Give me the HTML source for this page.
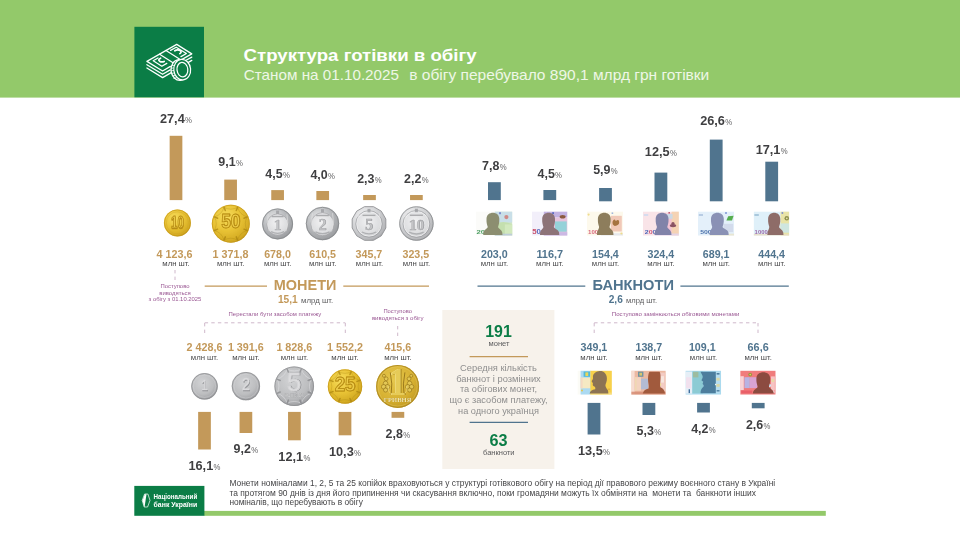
<!DOCTYPE html>
<html lang="uk">
<head>
<meta charset="utf-8">
<title>Структура готівки в обігу</title>
<style>
html,body{margin:0;padding:0;background:#ffffff;}
body{width:960px;height:540px;overflow:hidden;font-family:"Liberation Sans", sans-serif;}
svg{display:block;font-family:"Liberation Sans", sans-serif;filter:blur(0.35px);}
</style>
</head>
<body>
<svg width="960" height="540" viewBox="0 0 960 540">
<defs>

<radialGradient id="gG" cx="0.38" cy="0.32" r="0.75">
  <stop offset="0" stop-color="#f6dc5c"/><stop offset="0.5" stop-color="#e8c234"/><stop offset="0.88" stop-color="#d2a922"/><stop offset="1" stop-color="#b88e16"/>
</radialGradient>
<radialGradient id="gH" cx="0.4" cy="0.35" r="0.75">
  <stop offset="0" stop-color="#e6c84e"/><stop offset="0.6" stop-color="#d7b132"/><stop offset="0.9" stop-color="#c29a22"/><stop offset="1" stop-color="#a58018"/>
</radialGradient>
<radialGradient id="gS" cx="0.42" cy="0.36" r="0.72">
  <stop offset="0" stop-color="#d2d3d5"/><stop offset="0.6" stop-color="#bdbec0"/><stop offset="0.88" stop-color="#a2a3a6"/><stop offset="1" stop-color="#828386"/>
</radialGradient>
<radialGradient id="gS2" cx="0.38" cy="0.32" r="0.8">
  <stop offset="0" stop-color="#e6e7e8"/><stop offset="0.45" stop-color="#bbbdc0"/><stop offset="0.85" stop-color="#9c9ea1"/><stop offset="1" stop-color="#7e8083"/>
</radialGradient>
<radialGradient id="gS3" cx="0.36" cy="0.30" r="0.82">
  <stop offset="0" stop-color="#f4f4f5"/><stop offset="0.45" stop-color="#d6d7d9"/><stop offset="0.85" stop-color="#b4b5b8"/><stop offset="1" stop-color="#87888b"/>
</radialGradient>
<radialGradient id="gSi" cx="0.45" cy="0.4" r="0.7">
  <stop offset="0" stop-color="#f1f1f2"/><stop offset="0.7" stop-color="#dcdddf"/><stop offset="1" stop-color="#c6c7c9"/>
</radialGradient>
<linearGradient id="fadeL" x1="0" x2="1" y1="0" y2="0">
  <stop offset="0" stop-color="#ffffff" stop-opacity="0.9"/><stop offset="1" stop-color="#ffffff" stop-opacity="0"/>
</linearGradient>
<filter id="soft" x="-10%" y="-10%" width="120%" height="120%"><feGaussianBlur stdDeviation="0.45"/></filter>
<filter id="soft2" x="-10%" y="-10%" width="120%" height="120%"><feGaussianBlur stdDeviation="0.3"/></filter>

</defs>
<rect x="0.00" y="0.00" width="960.00" height="97.60" fill="#93c96a" />
<rect x="134.40" y="26.80" width="69.60" height="70.50" fill="#0b7d46" />
<text x="243.60" y="61.10" font-size="17.4" fill="#ffffff" font-weight="bold" textLength="233.00" lengthAdjust="spacingAndGlyphs">Структура готівки в обігу</text>
<text x="243.80" y="80.30" font-size="14.4" fill="#eef7e6" textLength="155.20" lengthAdjust="spacingAndGlyphs">Станом на 01.10.2025</text>
<text x="409.30" y="80.30" font-size="14.4" fill="#eef7e6" textLength="300.00" lengthAdjust="spacingAndGlyphs">в обігу перебувало 890,1 млрд грн готівки</text>
<g stroke="#ffffff" fill="none" stroke-width="1.25" stroke-linejoin="round" stroke-linecap="round"><path d="M179.4 60.9 L191.8 53.9 L176.7 44.4 L146.9 61.4 L162.6 71 L170.4 66.4"/><path d="M159.6 54.2 L173.8 63.2 M166.0 50.5 L180.6 59.8"/><path d="M158.0 58.0 L153.2 60.8 L161.8 66.2 L166.8 63.4"/><path d="M170.6 50.4 L176.2 47.2 L186.4 53.5 L181.0 56.6"/><path d="M174.8 50.8 q2.8 -1.8 5.4 -0.2 q2.0 1.5 -0.4 3.0" stroke-width="1.7"/><path d="M160.6 58.2 q-3.0 1.4 -1.0 3.0 q2.2 1.4 4.6 0.2" stroke-width="1.7"/><path d="M146.9 64.7 L162.6 74.3 L170.2 69.9 M146.9 68.0 L162.6 77.6 L171.2 72.6"/><path d="M185.2 60.8 L191.8 57.1 M188.0 62.6 L191.8 60.4"/></g><g stroke="#ffffff" stroke-width="1.25" stroke-linejoin="round"><ellipse cx="179.6" cy="70.0" rx="8.6" ry="10.4" fill="#0b7d46" transform="rotate(-6 179.6 70.0)"/><ellipse cx="182.2" cy="69.6" rx="8.4" ry="10.3" fill="#0b7d46" transform="rotate(-6 182.2 69.6)"/><ellipse cx="182.4" cy="69.6" rx="5.4" ry="7.3" fill="none" transform="rotate(-6 182.4 69.6)"/></g><g stroke="#ffffff" stroke-width="0.8" stroke-linecap="round"><line x1="172.2" y1="65.6" x2="174.29999999999998" y2="65.3"/><line x1="171.6" y1="68.2" x2="173.7" y2="67.9"/><line x1="171.4" y1="70.8" x2="173.5" y2="70.5"/><line x1="171.7" y1="73.4" x2="173.79999999999998" y2="73.10000000000001"/><line x1="172.5" y1="75.9" x2="174.6" y2="75.60000000000001"/><line x1="173.8" y1="78.2" x2="175.9" y2="77.9"/></g>
<rect x="169.65" y="135.80" width="12.70" height="64.30" fill="#c3995a" />
<text x="159.95" y="123.30" font-size="13" fill="#3f3f41" font-weight="bold" textLength="24.80" lengthAdjust="spacingAndGlyphs">27,4</text>
<text x="185.05" y="123.30" font-size="9.6" fill="#626264" textLength="6.90" lengthAdjust="spacingAndGlyphs">%</text>
<text x="156.60" y="257.50" font-size="11" fill="#c3995a" font-weight="bold" textLength="35.90" lengthAdjust="spacingAndGlyphs">4 123,6</text>
<text x="162.30" y="265.90" font-size="7.6" fill="#48484a" textLength="27.40" lengthAdjust="spacingAndGlyphs">млн шт.</text>
<rect x="224.25" y="179.60" width="12.70" height="20.50" fill="#c3995a" />
<text x="218.30" y="166.40" font-size="13" fill="#3f3f41" font-weight="bold" textLength="17.30" lengthAdjust="spacingAndGlyphs">9,1</text>
<text x="235.90" y="166.40" font-size="9.6" fill="#626264" textLength="6.90" lengthAdjust="spacingAndGlyphs">%</text>
<text x="212.60" y="257.50" font-size="11" fill="#c3995a" font-weight="bold" textLength="35.90" lengthAdjust="spacingAndGlyphs">1 371,8</text>
<text x="216.90" y="265.90" font-size="7.6" fill="#48484a" textLength="27.40" lengthAdjust="spacingAndGlyphs">млн шт.</text>
<rect x="271.25" y="190.10" width="12.70" height="10.00" fill="#c3995a" />
<text x="265.30" y="177.60" font-size="13" fill="#3f3f41" font-weight="bold" textLength="17.30" lengthAdjust="spacingAndGlyphs">4,5</text>
<text x="282.90" y="177.60" font-size="9.6" fill="#626264" textLength="6.90" lengthAdjust="spacingAndGlyphs">%</text>
<text x="264.20" y="257.50" font-size="11" fill="#c3995a" font-weight="bold" textLength="26.70" lengthAdjust="spacingAndGlyphs">678,0</text>
<text x="263.90" y="265.90" font-size="7.6" fill="#48484a" textLength="27.40" lengthAdjust="spacingAndGlyphs">млн шт.</text>
<rect x="316.35" y="191.00" width="12.70" height="9.10" fill="#c3995a" />
<text x="310.40" y="178.70" font-size="13" fill="#3f3f41" font-weight="bold" textLength="17.30" lengthAdjust="spacingAndGlyphs">4,0</text>
<text x="328.00" y="178.70" font-size="9.6" fill="#626264" textLength="6.90" lengthAdjust="spacingAndGlyphs">%</text>
<text x="309.30" y="257.50" font-size="11" fill="#c3995a" font-weight="bold" textLength="26.70" lengthAdjust="spacingAndGlyphs">610,5</text>
<text x="309.00" y="265.90" font-size="7.6" fill="#48484a" textLength="27.40" lengthAdjust="spacingAndGlyphs">млн шт.</text>
<rect x="363.15" y="195.00" width="12.70" height="5.10" fill="#c3995a" />
<text x="357.20" y="182.70" font-size="13" fill="#3f3f41" font-weight="bold" textLength="17.30" lengthAdjust="spacingAndGlyphs">2,3</text>
<text x="374.80" y="182.70" font-size="9.6" fill="#626264" textLength="6.90" lengthAdjust="spacingAndGlyphs">%</text>
<text x="355.60" y="257.50" font-size="11" fill="#c3995a" font-weight="bold" textLength="26.70" lengthAdjust="spacingAndGlyphs">345,7</text>
<text x="355.80" y="265.90" font-size="7.6" fill="#48484a" textLength="27.40" lengthAdjust="spacingAndGlyphs">млн шт.</text>
<rect x="410.05" y="195.00" width="12.70" height="5.10" fill="#c3995a" />
<text x="404.10" y="182.70" font-size="13" fill="#3f3f41" font-weight="bold" textLength="17.30" lengthAdjust="spacingAndGlyphs">2,2</text>
<text x="421.70" y="182.70" font-size="9.6" fill="#626264" textLength="6.90" lengthAdjust="spacingAndGlyphs">%</text>
<text x="402.50" y="257.50" font-size="11" fill="#c3995a" font-weight="bold" textLength="26.70" lengthAdjust="spacingAndGlyphs">323,5</text>
<text x="402.70" y="265.90" font-size="7.6" fill="#48484a" textLength="27.40" lengthAdjust="spacingAndGlyphs">млн шт.</text>
<rect x="488.00" y="182.20" width="12.80" height="17.90" fill="#50748e" />
<text x="482.10" y="169.70" font-size="13" fill="#3f3f41" font-weight="bold" textLength="17.30" lengthAdjust="spacingAndGlyphs">7,8</text>
<text x="499.70" y="169.70" font-size="9.6" fill="#626264" textLength="6.90" lengthAdjust="spacingAndGlyphs">%</text>
<text x="481.00" y="257.50" font-size="11" fill="#50748e" font-weight="bold" textLength="26.70" lengthAdjust="spacingAndGlyphs">203,0</text>
<text x="480.70" y="265.90" font-size="7.6" fill="#48484a" textLength="27.40" lengthAdjust="spacingAndGlyphs">млн шт.</text>
<rect x="543.40" y="190.00" width="12.80" height="10.10" fill="#50748e" />
<text x="537.50" y="177.80" font-size="13" fill="#3f3f41" font-weight="bold" textLength="17.30" lengthAdjust="spacingAndGlyphs">4,5</text>
<text x="555.10" y="177.80" font-size="9.6" fill="#626264" textLength="6.90" lengthAdjust="spacingAndGlyphs">%</text>
<text x="536.40" y="257.50" font-size="11" fill="#50748e" font-weight="bold" textLength="26.70" lengthAdjust="spacingAndGlyphs">116,7</text>
<text x="536.10" y="265.90" font-size="7.6" fill="#48484a" textLength="27.40" lengthAdjust="spacingAndGlyphs">млн шт.</text>
<rect x="599.10" y="188.00" width="12.80" height="13.30" fill="#50748e" />
<text x="593.20" y="173.70" font-size="13" fill="#3f3f41" font-weight="bold" textLength="17.30" lengthAdjust="spacingAndGlyphs">5,9</text>
<text x="610.80" y="173.70" font-size="9.6" fill="#626264" textLength="6.90" lengthAdjust="spacingAndGlyphs">%</text>
<text x="592.10" y="257.50" font-size="11" fill="#50748e" font-weight="bold" textLength="26.70" lengthAdjust="spacingAndGlyphs">154,4</text>
<text x="591.80" y="265.90" font-size="7.6" fill="#48484a" textLength="27.40" lengthAdjust="spacingAndGlyphs">млн шт.</text>
<rect x="654.50" y="172.60" width="12.80" height="28.70" fill="#50748e" />
<text x="644.85" y="156.20" font-size="13" fill="#3f3f41" font-weight="bold" textLength="24.80" lengthAdjust="spacingAndGlyphs">12,5</text>
<text x="669.95" y="156.20" font-size="9.6" fill="#626264" textLength="6.90" lengthAdjust="spacingAndGlyphs">%</text>
<text x="647.50" y="257.50" font-size="11" fill="#50748e" font-weight="bold" textLength="26.70" lengthAdjust="spacingAndGlyphs">324,4</text>
<text x="647.20" y="265.90" font-size="7.6" fill="#48484a" textLength="27.40" lengthAdjust="spacingAndGlyphs">млн шт.</text>
<rect x="709.80" y="139.60" width="12.80" height="61.70" fill="#50748e" />
<text x="700.15" y="125.40" font-size="13" fill="#3f3f41" font-weight="bold" textLength="24.80" lengthAdjust="spacingAndGlyphs">26,6</text>
<text x="725.25" y="125.40" font-size="9.6" fill="#626264" textLength="6.90" lengthAdjust="spacingAndGlyphs">%</text>
<text x="702.80" y="257.50" font-size="11" fill="#50748e" font-weight="bold" textLength="26.70" lengthAdjust="spacingAndGlyphs">689,1</text>
<text x="702.50" y="265.90" font-size="7.6" fill="#48484a" textLength="27.40" lengthAdjust="spacingAndGlyphs">млн шт.</text>
<rect x="765.30" y="161.70" width="12.80" height="39.60" fill="#50748e" />
<text x="755.65" y="153.80" font-size="13" fill="#3f3f41" font-weight="bold" textLength="24.80" lengthAdjust="spacingAndGlyphs">17,1</text>
<text x="780.75" y="153.80" font-size="9.6" fill="#626264" textLength="6.90" lengthAdjust="spacingAndGlyphs">%</text>
<text x="758.30" y="257.50" font-size="11" fill="#50748e" font-weight="bold" textLength="26.70" lengthAdjust="spacingAndGlyphs">444,4</text>
<text x="758.00" y="265.90" font-size="7.6" fill="#48484a" textLength="27.40" lengthAdjust="spacingAndGlyphs">млн шт.</text>
<line x1="204.7" y1="286" x2="267" y2="286" stroke="#c3995a" stroke-width="1.25"/>
<line x1="343.3" y1="286" x2="429" y2="286" stroke="#c3995a" stroke-width="1.25"/>
<text x="273.80" y="290.20" font-size="14.2" fill="#c3995a" font-weight="bold" textLength="62.60" lengthAdjust="spacingAndGlyphs">МОНЕТИ</text>
<text x="277.90" y="302.70" font-size="10.5" fill="#c3995a" font-weight="bold" textLength="19.80" lengthAdjust="spacingAndGlyphs">15,1</text>
<text x="301.10" y="302.70" font-size="7.6" fill="#5a5a5c" textLength="32.00" lengthAdjust="spacingAndGlyphs">млрд шт.</text>
<line x1="477.5" y1="286" x2="585.3" y2="286" stroke="#50748e" stroke-width="1.25"/>
<line x1="680.4" y1="286" x2="788.8" y2="286" stroke="#50748e" stroke-width="1.25"/>
<text x="592.50" y="290.10" font-size="14.2" fill="#50748e" font-weight="bold" textLength="81.40" lengthAdjust="spacingAndGlyphs">БАНКНОТИ</text>
<text x="608.70" y="302.60" font-size="10.5" fill="#50748e" font-weight="bold" textLength="14.10" lengthAdjust="spacingAndGlyphs">2,6</text>
<text x="626.10" y="302.60" font-size="7.6" fill="#5a5a5c" textLength="31.00" lengthAdjust="spacingAndGlyphs">млрд шт.</text>
<line x1="175" y1="270" x2="175" y2="280" stroke="#cfb8cb" stroke-width="1" stroke-dasharray="3.4 3.2"/>
<text x="175.00" y="287.50" font-size="5.6" fill="#995692" text-anchor="middle" textLength="29.00" lengthAdjust="spacingAndGlyphs">Поступово</text>
<text x="175.00" y="294.60" font-size="5.6" fill="#995692" text-anchor="middle" textLength="31.50" lengthAdjust="spacingAndGlyphs">виводяться</text>
<text x="175.00" y="301.30" font-size="5.6" fill="#995692" text-anchor="middle" textLength="52.80" lengthAdjust="spacingAndGlyphs">з обігу з 01.10.2025</text>
<text x="228.60" y="316.00" font-size="5.6" fill="#995692" textLength="92.60" lengthAdjust="spacingAndGlyphs">Перестали бути засобом платежу</text>
<line x1="204.7" y1="322.8" x2="345.3" y2="322.8" stroke="#cfb8cb" stroke-width="1" stroke-dasharray="3.4 3.2"/>
<line x1="204.7" y1="323" x2="204.7" y2="336" stroke="#cfb8cb" stroke-width="1" stroke-dasharray="3.4 3.2"/>
<line x1="345.3" y1="323" x2="345.3" y2="336" stroke="#cfb8cb" stroke-width="1" stroke-dasharray="3.4 3.2"/>
<text x="397.70" y="313.00" font-size="5.6" fill="#995692" text-anchor="middle" textLength="28.50" lengthAdjust="spacingAndGlyphs">Поступово</text>
<text x="397.70" y="320.40" font-size="5.6" fill="#995692" text-anchor="middle" textLength="51.60" lengthAdjust="spacingAndGlyphs">виводяться з обігу</text>
<line x1="397.7" y1="326" x2="397.7" y2="336" stroke="#cfb8cb" stroke-width="1" stroke-dasharray="3.4 3.2"/>
<text x="611.80" y="315.80" font-size="5.3" fill="#995692" textLength="127.60" lengthAdjust="spacingAndGlyphs">Поступово замінюються обіговими монетами</text>
<line x1="594.2" y1="322.8" x2="758" y2="322.8" stroke="#cfb8cb" stroke-width="1" stroke-dasharray="3.4 3.2"/>
<line x1="594.2" y1="323" x2="594.2" y2="336" stroke="#cfb8cb" stroke-width="1" stroke-dasharray="3.4 3.2"/>
<line x1="758" y1="323" x2="758" y2="333" stroke="#cfb8cb" stroke-width="1" stroke-dasharray="3.4 3.2"/>
<rect x="198.15" y="411.90" width="12.70" height="37.60" fill="#c3995a" />
<text x="188.45" y="469.70" font-size="13" fill="#3f3f41" font-weight="bold" textLength="24.80" lengthAdjust="spacingAndGlyphs">16,1</text>
<text x="213.55" y="469.70" font-size="9.6" fill="#626264" textLength="6.90" lengthAdjust="spacingAndGlyphs">%</text>
<text x="186.50" y="351.20" font-size="11" fill="#c3995a" font-weight="bold" textLength="35.90" lengthAdjust="spacingAndGlyphs">2 428,6</text>
<text x="190.80" y="360.00" font-size="7.6" fill="#48484a" textLength="27.40" lengthAdjust="spacingAndGlyphs">млн шт.</text>
<rect x="239.55" y="411.90" width="12.70" height="21.10" fill="#c3995a" />
<text x="233.60" y="453.20" font-size="13" fill="#3f3f41" font-weight="bold" textLength="17.30" lengthAdjust="spacingAndGlyphs">9,2</text>
<text x="251.20" y="453.20" font-size="9.6" fill="#626264" textLength="6.90" lengthAdjust="spacingAndGlyphs">%</text>
<text x="227.90" y="351.20" font-size="11" fill="#c3995a" font-weight="bold" textLength="35.90" lengthAdjust="spacingAndGlyphs">1 391,6</text>
<text x="232.20" y="360.00" font-size="7.6" fill="#48484a" textLength="27.40" lengthAdjust="spacingAndGlyphs">млн шт.</text>
<rect x="288.05" y="411.90" width="12.70" height="28.40" fill="#c3995a" />
<text x="278.35" y="460.50" font-size="13" fill="#3f3f41" font-weight="bold" textLength="24.80" lengthAdjust="spacingAndGlyphs">12,1</text>
<text x="303.45" y="460.50" font-size="9.6" fill="#626264" textLength="6.90" lengthAdjust="spacingAndGlyphs">%</text>
<text x="276.40" y="351.20" font-size="11" fill="#c3995a" font-weight="bold" textLength="35.90" lengthAdjust="spacingAndGlyphs">1 828,6</text>
<text x="280.70" y="360.00" font-size="7.6" fill="#48484a" textLength="27.40" lengthAdjust="spacingAndGlyphs">млн шт.</text>
<rect x="338.65" y="411.90" width="12.70" height="23.40" fill="#c3995a" />
<text x="328.95" y="455.50" font-size="13" fill="#3f3f41" font-weight="bold" textLength="24.80" lengthAdjust="spacingAndGlyphs">10,3</text>
<text x="354.05" y="455.50" font-size="9.6" fill="#626264" textLength="6.90" lengthAdjust="spacingAndGlyphs">%</text>
<text x="327.00" y="351.20" font-size="11" fill="#c3995a" font-weight="bold" textLength="35.90" lengthAdjust="spacingAndGlyphs">1 552,2</text>
<text x="331.30" y="360.00" font-size="7.6" fill="#48484a" textLength="27.40" lengthAdjust="spacingAndGlyphs">млн шт.</text>
<rect x="391.55" y="411.90" width="12.70" height="5.90" fill="#c3995a" />
<text x="385.60" y="438.00" font-size="13" fill="#3f3f41" font-weight="bold" textLength="17.30" lengthAdjust="spacingAndGlyphs">2,8</text>
<text x="403.20" y="438.00" font-size="9.6" fill="#626264" textLength="6.90" lengthAdjust="spacingAndGlyphs">%</text>
<text x="384.50" y="351.20" font-size="11" fill="#c3995a" font-weight="bold" textLength="26.70" lengthAdjust="spacingAndGlyphs">415,6</text>
<text x="384.20" y="360.00" font-size="7.6" fill="#48484a" textLength="27.40" lengthAdjust="spacingAndGlyphs">млн шт.</text>
<rect x="587.60" y="402.90" width="12.80" height="31.60" fill="#50748e" />
<text x="577.95" y="454.80" font-size="13" fill="#3f3f41" font-weight="bold" textLength="24.80" lengthAdjust="spacingAndGlyphs">13,5</text>
<text x="603.05" y="454.80" font-size="9.6" fill="#626264" textLength="6.90" lengthAdjust="spacingAndGlyphs">%</text>
<text x="580.60" y="351.20" font-size="11" fill="#50748e" font-weight="bold" textLength="26.70" lengthAdjust="spacingAndGlyphs">349,1</text>
<text x="580.30" y="360.00" font-size="7.6" fill="#48484a" textLength="27.40" lengthAdjust="spacingAndGlyphs">млн шт.</text>
<rect x="642.50" y="402.90" width="12.80" height="12.10" fill="#50748e" />
<text x="636.60" y="435.30" font-size="13" fill="#3f3f41" font-weight="bold" textLength="17.30" lengthAdjust="spacingAndGlyphs">5,3</text>
<text x="654.20" y="435.30" font-size="9.6" fill="#626264" textLength="6.90" lengthAdjust="spacingAndGlyphs">%</text>
<text x="635.50" y="351.20" font-size="11" fill="#50748e" font-weight="bold" textLength="26.70" lengthAdjust="spacingAndGlyphs">138,7</text>
<text x="635.20" y="360.00" font-size="7.6" fill="#48484a" textLength="27.40" lengthAdjust="spacingAndGlyphs">млн шт.</text>
<rect x="697.10" y="402.90" width="12.80" height="9.60" fill="#50748e" />
<text x="691.20" y="432.80" font-size="13" fill="#3f3f41" font-weight="bold" textLength="17.30" lengthAdjust="spacingAndGlyphs">4,2</text>
<text x="708.80" y="432.80" font-size="9.6" fill="#626264" textLength="6.90" lengthAdjust="spacingAndGlyphs">%</text>
<text x="688.90" y="351.20" font-size="11" fill="#50748e" font-weight="bold" textLength="26.70" lengthAdjust="spacingAndGlyphs">109,1</text>
<text x="689.80" y="360.00" font-size="7.6" fill="#48484a" textLength="27.40" lengthAdjust="spacingAndGlyphs">млн шт.</text>
<rect x="751.80" y="402.90" width="12.80" height="5.40" fill="#50748e" />
<text x="745.90" y="428.60" font-size="13" fill="#3f3f41" font-weight="bold" textLength="17.30" lengthAdjust="spacingAndGlyphs">2,6</text>
<text x="763.50" y="428.60" font-size="9.6" fill="#626264" textLength="6.90" lengthAdjust="spacingAndGlyphs">%</text>
<text x="747.60" y="351.20" font-size="11" fill="#50748e" font-weight="bold" textLength="21.10" lengthAdjust="spacingAndGlyphs">66,6</text>
<text x="744.50" y="360.00" font-size="7.6" fill="#48484a" textLength="27.40" lengthAdjust="spacingAndGlyphs">млн шт.</text>
<rect x="442.30" y="310.00" width="112.10" height="159.00" fill="#f7f2eb" />
<text x="498.50" y="337.20" font-size="15.8" fill="#0b7d46" font-weight="bold" text-anchor="middle" textLength="26.60" lengthAdjust="spacingAndGlyphs">191</text>
<text x="499.00" y="346.00" font-size="7.2" fill="#5a5a5c" text-anchor="middle" textLength="21.00" lengthAdjust="spacingAndGlyphs">монет</text>
<line x1="469.6" y1="356.7" x2="528" y2="356.7" stroke="#c3995a" stroke-width="1.2"/>
<text x="498.50" y="371.00" font-size="8.5" fill="#8e8e8e" text-anchor="middle" textLength="76.80" lengthAdjust="spacingAndGlyphs">Середня кількість</text>
<text x="498.50" y="381.72" font-size="8.5" fill="#8e8e8e" text-anchor="middle" textLength="84.60" lengthAdjust="spacingAndGlyphs">банкнот і розмінних</text>
<text x="498.50" y="392.44" font-size="8.5" fill="#8e8e8e" text-anchor="middle" textLength="77.00" lengthAdjust="spacingAndGlyphs">та обігових монет,</text>
<text x="498.50" y="403.16" font-size="8.5" fill="#8e8e8e" text-anchor="middle" textLength="98.00" lengthAdjust="spacingAndGlyphs">що є засобом платежу,</text>
<text x="498.50" y="413.88" font-size="8.5" fill="#8e8e8e" text-anchor="middle" textLength="80.80" lengthAdjust="spacingAndGlyphs">на одного українця</text>
<line x1="469.6" y1="422.3" x2="528" y2="422.3" stroke="#50748e" stroke-width="1.2"/>
<text x="498.60" y="445.70" font-size="15.8" fill="#0b7d46" font-weight="bold" text-anchor="middle" textLength="18.00" lengthAdjust="spacingAndGlyphs">63</text>
<text x="498.80" y="454.50" font-size="7.2" fill="#5a5a5c" text-anchor="middle" textLength="31.50" lengthAdjust="spacingAndGlyphs">банкноти</text>
<rect x="204.00" y="510.90" width="621.80" height="4.90" fill="#93c96a" />
<rect x="134.30" y="485.90" width="70.10" height="29.90" fill="#0b7d46" />
<text x="153.60" y="498.70" font-size="6.6" fill="#ffffff" font-weight="bold" textLength="43.60" lengthAdjust="spacingAndGlyphs">Національний</text>
<text x="153.60" y="506.70" font-size="6.6" fill="#ffffff" font-weight="bold" textLength="43.60" lengthAdjust="spacingAndGlyphs">банк України</text>
<g><path d="M144.6 494 L147.9 494 L150 500.4 L147.6 507 L144.2 507 L142.2 500.4 Z" fill="none" stroke="#ffffff" stroke-width="0.7" stroke-linejoin="round"/><path d="M144.8 494.2 L146.5 494.2 L144.6 506.8 L144.2 506.8 L142.5 500.4 Z" fill="#ffffff"/></g>
<text x="229.40" y="486.20" font-size="8.2" fill="#454547" textLength="545.80" lengthAdjust="spacingAndGlyphs">Монети номіналами 1, 2, 5 та 25 копійок враховуються у структурі готівкового обігу на період дії правового режиму воєнного стану в Україні</text>
<text x="229.40" y="495.60" font-size="8.2" fill="#454547" textLength="526.60" lengthAdjust="spacingAndGlyphs" xml:space="preserve">та протягом 90 днів із дня його припинення чи скасування включно, поки громадяни можуть їх обміняти на  монети та  банкноти інших</text>
<text x="229.40" y="504.80" font-size="8.2" fill="#454547" textLength="133.50" lengthAdjust="spacingAndGlyphs">номіналів, що перебувають в обігу</text>
<g filter="url(#soft2)"><circle cx="177.4" cy="222.9" r="13.5" fill="url(#gG)"/><circle cx="177.4" cy="222.9" r="13.00" fill="none" stroke="#c3951a" stroke-width="0.9" opacity="0.75"/><circle cx="177.4" cy="222.9" r="11.07" fill="none" stroke="#cfa325" stroke-width="0.6" opacity="0.6"/><text x="177.90" y="228.71" font-size="16.5" font-weight="bold" text-anchor="middle" fill="#b0820e" stroke="#b0820e" stroke-width="0.5" opacity="0.8" transform="translate(177.40 0) scale(0.7 1) translate(-177.40 0)">10</text><text x="177.40" y="228.21" font-size="16.5" font-weight="bold" text-anchor="middle" fill="#eccb4a" stroke="#b58a12" stroke-width="0.85" transform="translate(177.40 0) scale(0.7 1) translate(-177.40 0)">10</text></g><g filter="url(#soft2)"><circle cx="230.8" cy="223.7" r="19.0" fill="url(#gG)"/><circle cx="230.8" cy="223.7" r="18.50" fill="none" stroke="#c3951a" stroke-width="0.9" opacity="0.75"/><g opacity="0.7"><path d="M247.16 230.48 Q239.77 232.67 237.58 240.06 Q230.80 236.39 224.02 240.06 Q221.83 232.67 214.44 230.48 Q218.11 223.70 214.44 216.92 Q221.83 214.73 224.02 207.34 Q230.80 211.01 237.58 207.34 Q239.77 214.73 247.16 216.92 Q243.49 223.70 247.16 230.48 Z" fill="none" stroke="#a8820f" stroke-width="0.8" stroke-linejoin="miter" opacity="0.55"/><line x1="247.16" y1="230.48" x2="244.00" y2="229.17" stroke="#a8820f" stroke-width="1.52" stroke-linecap="round"/><line x1="237.58" y1="240.06" x2="236.27" y2="236.90" stroke="#a8820f" stroke-width="1.52" stroke-linecap="round"/><line x1="224.02" y1="240.06" x2="225.33" y2="236.90" stroke="#a8820f" stroke-width="1.52" stroke-linecap="round"/><line x1="214.44" y1="230.48" x2="217.60" y2="229.17" stroke="#a8820f" stroke-width="1.52" stroke-linecap="round"/><line x1="214.44" y1="216.92" x2="217.60" y2="218.23" stroke="#a8820f" stroke-width="1.52" stroke-linecap="round"/><line x1="224.02" y1="207.34" x2="225.33" y2="210.50" stroke="#a8820f" stroke-width="1.52" stroke-linecap="round"/><line x1="237.58" y1="207.34" x2="236.27" y2="210.50" stroke="#a8820f" stroke-width="1.52" stroke-linecap="round"/><line x1="247.16" y1="216.92" x2="244.00" y2="218.23" stroke="#a8820f" stroke-width="1.52" stroke-linecap="round"/></g><text x="231.30" y="228.16" font-size="20" font-weight="bold" text-anchor="middle" fill="#b0820e" stroke="#b0820e" stroke-width="0.5" opacity="0.8" transform="translate(230.80 0) scale(0.86 1) translate(-230.80 0)">50</text><text x="230.80" y="227.66" font-size="20" font-weight="bold" text-anchor="middle" fill="#eccb4a" stroke="#b58a12" stroke-width="0.85" transform="translate(230.80 0) scale(0.86 1) translate(-230.80 0)">50</text></g><g filter="url(#soft2)"><circle cx="277.6" cy="223.9" r="15.5" fill="url(#gS2)"/><circle cx="277.6" cy="223.9" r="15.00" fill="none" stroke="#86888b" stroke-width="1.0" opacity="0.8"/><circle cx="277.6" cy="224.6" r="10.69" fill="url(#gSi)" stroke="#9a9b9e" stroke-width="0.6"/><rect x="276.10" y="210.57" width="3" height="3.4" fill="#a2a3a6" opacity="0.9"/><rect x="271.71" y="215.84" width="11.78" height="1.4" fill="#97989b" opacity="0.75"/><path d="M271.09 231.65 Q277.60 235.06 284.11 231.65" fill="none" stroke="#9d9ea1" stroke-width="1.3" opacity="0.7"/><path d="M268.30 214.29 q-2.4 8.53 1 17.05" fill="none" stroke="#e2e2e3" stroke-width="0.8" opacity="0.8"/><path d="M286.90 214.29 q2.4 8.53 -1 17.05" fill="none" stroke="#e2e2e3" stroke-width="0.8" opacity="0.8"/><text x="278.10" y="230.30" font-family="Liberation Serif, serif" font-size="15" font-weight="bold" text-anchor="middle" fill="#8c8d91" opacity="0.9">1</text><text x="277.60" y="229.90" font-family="Liberation Serif, serif" font-size="15" font-weight="bold" text-anchor="middle" fill="#c6c7c9" stroke="#a9aaad" stroke-width="0.35">1</text></g><g filter="url(#soft2)"><circle cx="322.5" cy="223.5" r="16.7" fill="url(#gS2)"/><circle cx="322.5" cy="223.5" r="16.20" fill="none" stroke="#86888b" stroke-width="1.0" opacity="0.8"/><circle cx="322.5" cy="224.2" r="11.52" fill="url(#gSi)" stroke="#9a9b9e" stroke-width="0.6"/><rect x="321.00" y="209.14" width="3" height="3.4" fill="#a2a3a6" opacity="0.9"/><rect x="316.15" y="214.82" width="12.69" height="1.4" fill="#97989b" opacity="0.75"/><path d="M315.49 231.85 Q322.50 235.52 329.51 231.85" fill="none" stroke="#9d9ea1" stroke-width="1.3" opacity="0.7"/><path d="M312.48 213.15 q-2.4 9.19 1 18.37" fill="none" stroke="#e2e2e3" stroke-width="0.8" opacity="0.8"/><path d="M332.52 213.15 q2.4 9.19 -1 18.37" fill="none" stroke="#e2e2e3" stroke-width="0.8" opacity="0.8"/><text x="323.00" y="230.24" font-family="Liberation Serif, serif" font-size="16" font-weight="bold" text-anchor="middle" fill="#8c8d91" opacity="0.9">2</text><text x="322.50" y="229.84" font-family="Liberation Serif, serif" font-size="16" font-weight="bold" text-anchor="middle" fill="#c6c7c9" stroke="#a9aaad" stroke-width="0.35">2</text></g><g filter="url(#soft2)"><polygon points="385.83,228.01 381.32,235.82 373.51,240.33 364.49,240.33 356.68,235.82 352.17,228.01 352.17,218.99 356.68,211.18 364.49,206.67 373.51,206.67 381.32,211.18 385.83,218.99" fill="url(#gS3)" stroke="#8f9093" stroke-width="0.9" stroke-linejoin="round"/><circle cx="369.0" cy="223.9" r="12.41" fill="url(#gSi)" stroke="#f4f4f5" stroke-width="0.8"/><circle cx="369.0" cy="223.9" r="13.26" fill="none" stroke="#919295" stroke-width="0.6"/><rect x="367.50" y="208.88" width="3" height="3.4" fill="#a2a3a6" opacity="0.9"/><rect x="362.54" y="214.66" width="12.92" height="1.4" fill="#97989b" opacity="0.75"/><path d="M361.86 232.00 Q369.00 235.74 376.14 232.00" fill="none" stroke="#9d9ea1" stroke-width="1.3" opacity="0.7"/><path d="M358.80 212.96 q-2.4 9.35 1 18.70" fill="none" stroke="#e2e2e3" stroke-width="0.8" opacity="0.8"/><path d="M379.20 212.96 q2.4 9.35 -1 18.70" fill="none" stroke="#e2e2e3" stroke-width="0.8" opacity="0.8"/><text x="369.50" y="230.24" font-family="Liberation Serif, serif" font-size="16" font-weight="bold" text-anchor="middle" fill="#86878b" opacity="0.9">5</text><text x="369.00" y="229.84" font-family="Liberation Serif, serif" font-size="16" font-weight="bold" text-anchor="middle" fill="#c4c5c7" stroke="#a2a3a6" stroke-width="0.35">5</text></g><g filter="url(#soft2)"><circle cx="416.4" cy="223.5" r="17.2" fill="url(#gS3)"/><circle cx="416.4" cy="223.5" r="16.70" fill="none" stroke="#86888b" stroke-width="1.0" opacity="0.8"/><circle cx="416.4" cy="223.9" r="12.56" fill="url(#gSi)" stroke="#f4f4f5" stroke-width="0.8"/><circle cx="416.4" cy="223.9" r="13.42" fill="none" stroke="#919295" stroke-width="0.6"/><rect x="414.90" y="208.71" width="3" height="3.4" fill="#a2a3a6" opacity="0.9"/><rect x="409.86" y="214.56" width="13.07" height="1.4" fill="#97989b" opacity="0.75"/><path d="M409.18 232.10 Q416.40 235.88 423.62 232.10" fill="none" stroke="#9d9ea1" stroke-width="1.3" opacity="0.7"/><path d="M406.08 212.84 q-2.4 9.46 1 18.92" fill="none" stroke="#e2e2e3" stroke-width="0.8" opacity="0.8"/><path d="M426.72 212.84 q2.4 9.46 -1 18.92" fill="none" stroke="#e2e2e3" stroke-width="0.8" opacity="0.8"/><text x="416.90" y="230.07" font-family="Liberation Serif, serif" font-size="15.5" font-weight="bold" text-anchor="middle" fill="#86878b" opacity="0.9">10</text><text x="416.40" y="229.67" font-family="Liberation Serif, serif" font-size="15.5" font-weight="bold" text-anchor="middle" fill="#c4c5c7" stroke="#a2a3a6" stroke-width="0.35">10</text></g><g filter="url(#soft2)"><circle cx="204.5" cy="386.3" r="13.3" fill="url(#gS)"/><circle cx="204.5" cy="386.3" r="12.80" fill="none" stroke="#898a8d" stroke-width="0.9" opacity="0.8"/><circle cx="204.5" cy="386.3" r="11.17" fill="none" stroke="#dadadc" stroke-width="0.5" opacity="0.7"/><text x="205.10" y="390.81" font-size="14" text-anchor="middle" fill="#85868a" stroke="#85868a" stroke-width="0.5" opacity="0.85" transform="translate(204.50 0) scale(0.85 1) translate(-204.50 0)">1</text><text x="204.50" y="390.31" font-size="14" text-anchor="middle" fill="#dedee0" stroke="#d6d6d8" stroke-width="0.5" transform="translate(204.50 0) scale(0.85 1) translate(-204.50 0)">1</text></g><g filter="url(#soft2)"><circle cx="245.9" cy="386.1" r="14.2" fill="url(#gS)"/><circle cx="245.9" cy="386.1" r="13.70" fill="none" stroke="#898a8d" stroke-width="0.9" opacity="0.8"/><circle cx="245.9" cy="386.1" r="11.93" fill="none" stroke="#dadadc" stroke-width="0.5" opacity="0.7"/><text x="246.50" y="390.89" font-size="17" text-anchor="middle" fill="#85868a" stroke="#85868a" stroke-width="0.5" opacity="0.85" transform="translate(245.90 0) scale(0.85 1) translate(-245.90 0)">2</text><text x="245.90" y="390.39" font-size="17" text-anchor="middle" fill="#dedee0" stroke="#d6d6d8" stroke-width="0.5" transform="translate(245.90 0) scale(0.85 1) translate(-245.90 0)">2</text></g><g filter="url(#soft2)"><circle cx="294.2" cy="386.2" r="19.8" fill="url(#gS)"/><circle cx="294.2" cy="386.2" r="19.30" fill="none" stroke="#898a8d" stroke-width="0.9" opacity="0.8"/><g opacity="0.6"><path d="M311.14 393.22 Q303.78 395.78 301.22 403.14 Q294.20 399.74 287.18 403.14 Q284.62 395.78 277.26 393.22 Q280.66 386.20 277.26 379.18 Q284.62 376.62 287.18 369.26 Q294.20 372.66 301.22 369.26 Q303.78 376.62 311.14 379.18 Q307.74 386.20 311.14 393.22 Z" fill="none" stroke="#ececee" stroke-width="0.8" stroke-linejoin="miter" opacity="0.9"/><line x1="311.14" y1="393.22" x2="308.12" y2="391.97" stroke="#7f8084" stroke-width="1.52" stroke-linecap="round"/><line x1="301.22" y1="403.14" x2="299.97" y2="400.12" stroke="#7f8084" stroke-width="1.52" stroke-linecap="round"/><line x1="287.18" y1="403.14" x2="288.43" y2="400.12" stroke="#7f8084" stroke-width="1.52" stroke-linecap="round"/><line x1="277.26" y1="393.22" x2="280.28" y2="391.97" stroke="#7f8084" stroke-width="1.52" stroke-linecap="round"/><line x1="277.26" y1="379.18" x2="280.28" y2="380.43" stroke="#7f8084" stroke-width="1.52" stroke-linecap="round"/><line x1="287.18" y1="369.26" x2="288.43" y2="372.28" stroke="#7f8084" stroke-width="1.52" stroke-linecap="round"/><line x1="301.22" y1="369.26" x2="299.97" y2="372.28" stroke="#7f8084" stroke-width="1.52" stroke-linecap="round"/><line x1="311.14" y1="379.18" x2="308.12" y2="380.43" stroke="#7f8084" stroke-width="1.52" stroke-linecap="round"/></g><text x="294.20" y="396.60" font-size="4.6" font-weight="bold" text-anchor="middle" fill="#dededf" stroke="#97989b" stroke-width="0.25" textLength="19" lengthAdjust="spacingAndGlyphs">КОПІЙОК</text><text x="294.80" y="391.03" font-size="25.5" text-anchor="middle" fill="#85868a" stroke="#85868a" stroke-width="1.0" opacity="0.85" transform="translate(294.20 0) scale(1.0 1) translate(-294.20 0)">5</text><text x="294.20" y="390.53" font-size="25.5" text-anchor="middle" fill="#dedee0" stroke="#d6d6d8" stroke-width="1.0" transform="translate(294.20 0) scale(1.0 1) translate(-294.20 0)">5</text></g><g filter="url(#soft2)"><circle cx="345.0" cy="386.5" r="17.2" fill="url(#gG)"/><circle cx="345.0" cy="386.5" r="16.70" fill="none" stroke="#c3951a" stroke-width="0.9" opacity="0.75"/><g opacity="0.7"><path d="M359.81 392.63 Q353.12 394.62 351.13 401.31 Q345.00 397.99 338.87 401.31 Q336.88 394.62 330.19 392.63 Q333.51 386.50 330.19 380.37 Q336.88 378.38 338.87 371.69 Q345.00 375.01 351.13 371.69 Q353.12 378.38 359.81 380.37 Q356.49 386.50 359.81 392.63 Z" fill="none" stroke="#a8820f" stroke-width="0.8" stroke-linejoin="miter" opacity="0.55"/><line x1="359.81" y1="392.63" x2="356.95" y2="391.45" stroke="#a8820f" stroke-width="1.52" stroke-linecap="round"/><line x1="351.13" y1="401.31" x2="349.95" y2="398.45" stroke="#a8820f" stroke-width="1.52" stroke-linecap="round"/><line x1="338.87" y1="401.31" x2="340.05" y2="398.45" stroke="#a8820f" stroke-width="1.52" stroke-linecap="round"/><line x1="330.19" y1="392.63" x2="333.05" y2="391.45" stroke="#a8820f" stroke-width="1.52" stroke-linecap="round"/><line x1="330.19" y1="380.37" x2="333.05" y2="381.55" stroke="#a8820f" stroke-width="1.52" stroke-linecap="round"/><line x1="338.87" y1="371.69" x2="340.05" y2="374.55" stroke="#a8820f" stroke-width="1.52" stroke-linecap="round"/><line x1="351.13" y1="371.69" x2="349.95" y2="374.55" stroke="#a8820f" stroke-width="1.52" stroke-linecap="round"/><line x1="359.81" y1="380.37" x2="356.95" y2="381.55" stroke="#a8820f" stroke-width="1.52" stroke-linecap="round"/></g><text x="345.50" y="391.38" font-size="19.5" font-weight="bold" text-anchor="middle" fill="#b0820e" stroke="#b0820e" stroke-width="0.5" opacity="0.8" transform="translate(345.00 0) scale(0.95 1) translate(-345.00 0)">25</text><text x="345.00" y="390.88" font-size="19.5" font-weight="bold" text-anchor="middle" fill="#eccb4a" stroke="#b58a12" stroke-width="0.85" transform="translate(345.00 0) scale(0.95 1) translate(-345.00 0)">25</text></g><g filter="url(#soft2)"><circle cx="397.6" cy="386.4" r="21.5" fill="url(#gH)"/><circle cx="397.6" cy="386.4" r="20.90" fill="none" stroke="#ad8a22" stroke-width="1.1" opacity="0.85"/><circle cx="397.6" cy="386.4" r="19.60" fill="none" stroke="#ead272" stroke-width="0.5" opacity="0.7"/><circle cx="385.56" cy="383.40" r="2.3" fill="#e4c957" stroke="#94731a" stroke-width="0.7" opacity="0.9"/><circle cx="387.46" cy="386.80" r="2.3" fill="#e4c957" stroke="#94731a" stroke-width="0.7" opacity="0.9"/><circle cx="383.66" cy="386.80" r="2.3" fill="#e4c957" stroke="#94731a" stroke-width="0.7" opacity="0.9"/><circle cx="385.56" cy="390.00" r="2.1" fill="#e4c957" stroke="#94731a" stroke-width="0.7" opacity="0.9"/><circle cx="386.16" cy="378.80" r="1.9" fill="#e4c957" stroke="#94731a" stroke-width="0.7" opacity="0.9"/><circle cx="383.96" cy="375.80" r="1.5" fill="#e4c957" stroke="#94731a" stroke-width="0.7" opacity="0.9"/><path d="M391.15 394.40 Q392.87 384.40 390.29 372.40" fill="none" stroke="#8f6f16" stroke-width="1.0" opacity="0.85"/><path d="M390.29 393.40 q-3.50 -3 -1.50 -7" fill="none" stroke="#f0dc84" stroke-width="0.8" opacity="0.8"/><circle cx="409.64" cy="383.40" r="2.3" fill="#e4c957" stroke="#94731a" stroke-width="0.7" opacity="0.9"/><circle cx="407.74" cy="386.80" r="2.3" fill="#e4c957" stroke="#94731a" stroke-width="0.7" opacity="0.9"/><circle cx="411.54" cy="386.80" r="2.3" fill="#e4c957" stroke="#94731a" stroke-width="0.7" opacity="0.9"/><circle cx="409.64" cy="390.00" r="2.1" fill="#e4c957" stroke="#94731a" stroke-width="0.7" opacity="0.9"/><circle cx="409.04" cy="378.80" r="1.9" fill="#e4c957" stroke="#94731a" stroke-width="0.7" opacity="0.9"/><circle cx="411.24" cy="375.80" r="1.5" fill="#e4c957" stroke="#94731a" stroke-width="0.7" opacity="0.9"/><path d="M404.05 394.40 Q402.33 384.40 404.91 372.40" fill="none" stroke="#8f6f16" stroke-width="1.0" opacity="0.85"/><path d="M404.91 393.40 q3.50 -3 1.50 -7" fill="none" stroke="#f0dc84" stroke-width="0.8" opacity="0.8"/><text x="398.50" y="395.30" font-family="Liberation Serif, serif" font-size="39.5" font-weight="bold" text-anchor="middle" fill="#8a6a10" opacity="0.95" transform="translate(397.60 0) scale(0.9 1) translate(-397.60 0)">1</text><text x="397.10" y="394.90" font-family="Liberation Serif, serif" font-size="39.5" font-weight="bold" text-anchor="middle" fill="#f6e694" opacity="0.95" transform="translate(397.60 0) scale(0.9 1) translate(-397.60 0)">1</text><text x="397.60" y="395.00" font-family="Liberation Serif, serif" font-size="39.5" font-weight="bold" text-anchor="middle" fill="#e6cb58" transform="translate(397.60 0) scale(0.9 1) translate(-397.60 0)">1</text><text x="397.90" y="402.10" font-family="Liberation Serif, serif" font-size="6.8" font-weight="bold" text-anchor="middle" fill="#8f6f14" opacity="0.9" textLength="27.6" lengthAdjust="spacingAndGlyphs">ГРИВНЯ</text><text x="397.60" y="401.80" font-family="Liberation Serif, serif" font-size="6.8" font-weight="bold" text-anchor="middle" fill="#f4e8b0" textLength="27.6" lengthAdjust="spacingAndGlyphs">ГРИВНЯ</text></g><clipPath id="c4758"><rect x="475.80" y="211.40" width="36.60" height="24.30"/></clipPath><g clip-path="url(#c4758)" filter="url(#soft)"><rect x="475.80" y="211.40" width="36.60" height="24.30" fill="#fbfbf9"/><rect x="494.80" y="211.40" width="17.60" height="24.30" fill="#cfe5c6"/><rect x="494.80" y="211.40" width="17.60" height="11.00" fill="#c9dfe8"/><path d="M494.8 224.4 q8 -5 18 0 v11 h-18z" fill="#c4dfae"/><rect x="504.80" y="224.40" width="7.60" height="11.30" fill="#d9ecc4" opacity="0.7"/><circle cx="506.4" cy="217.1" r="2.1" fill="#cf8a86"/><rect x="499.00" y="212.20" width="2.00" height="2.00" fill="#7f8fd0"/><rect x="494.80" y="233.70" width="17.60" height="2.00" fill="#b9c6e0" opacity="0.8"/><text x="476.40" y="234.40" font-size="6.0" font-weight="bold" fill="#4c9f62" textLength="8.6" lengthAdjust="spacingAndGlyphs">20</text><path fill="#8c8e70" d="M486.50 218.70 C486.50 210.60 499.30 210.60 499.30 218.70 C499.50 222.70 498.70 224.80 498.10 226.80 C498.10 228.80 501.20 229.20 502.20 232.20 L502.50 235.10 L483.20 235.10 L483.50 232.20 C484.50 229.20 487.70 228.80 487.70 226.80 C487.10 224.80 486.30 222.70 486.50 218.70 Z"/></g><clipPath id="c5318"><rect x="531.80" y="211.40" width="35.70" height="24.30"/></clipPath><g clip-path="url(#c5318)" filter="url(#soft)"><rect x="531.80" y="211.40" width="35.70" height="24.30" fill="#f2effa"/><rect x="543.80" y="211.40" width="23.70" height="6.00" fill="#c2b2e2"/><rect x="543.80" y="217.40" width="23.70" height="18.30" fill="#e7c3dc"/><rect x="555.00" y="221.40" width="11.70" height="10.30" fill="#95d2d9"/><rect x="543.80" y="232.20" width="23.70" height="3.50" fill="#cbb8e4"/><rect x="552.20" y="212.20" width="1.80" height="1.80" fill="#5a6ac0"/><ellipse cx="562.6" cy="216.8" rx="3" ry="1.8" fill="#8b5a3f"/><text x="532.20" y="234.10" font-size="6.6" font-weight="bold" fill="#c9506a" textLength="4.4" lengthAdjust="spacingAndGlyphs">5</text><text x="536.60" y="234.10" font-size="6.6" font-weight="bold" fill="#5a6fc0" textLength="4.4" lengthAdjust="spacingAndGlyphs">0</text><path fill="#8d7378" d="M542.20 218.70 C542.20 210.60 555.00 210.60 555.00 218.70 C555.20 222.70 554.40 224.80 553.80 226.80 C553.80 228.80 558.00 229.20 559.00 232.20 L559.30 235.10 L539.90 235.10 L540.20 232.20 C541.20 229.20 543.40 228.80 543.40 226.80 C542.80 224.80 542.00 222.70 542.20 218.70 Z"/></g><clipPath id="c5870"><rect x="587.00" y="211.40" width="36.00" height="24.30"/></clipPath><g clip-path="url(#c5870)" filter="url(#soft)"><rect x="587.00" y="211.40" width="36.00" height="24.30" fill="#fdf9ec"/><rect x="610.80" y="215.80" width="11.00" height="15.70" fill="#f1c9b8"/><rect x="601.00" y="233.30" width="22.00" height="2.40" fill="#dfe3ee" opacity="0.8"/><circle cx="588.6" cy="214.6" r="1.1" fill="#efdc8c"/><circle cx="621.4" cy="233.5" r="1.1" fill="#efdc8c"/><rect x="611.60" y="212.40" width="1.60" height="1.60" fill="#9fb6dc"/><path d="M612.6 221.5 q1.6 -3.6 3.2 -0.6 q3.4 -2.2 3.4 1.4 q0 3.4 -4.4 3.6 q-2.8 -0.8 -2.2 -4.4z" fill="#a5733f"/><text x="588.00" y="234.10" font-size="5.8" font-weight="bold" fill="#d8687c" textLength="10.2" lengthAdjust="spacingAndGlyphs">100</text><path fill="#8d7d5b" d="M597.90 218.70 C597.90 210.60 610.70 210.60 610.70 218.70 C610.90 222.70 610.10 224.80 609.50 226.80 C609.50 228.80 612.20 229.20 613.20 232.20 L613.50 235.10 L596.90 235.10 L597.20 232.20 C598.20 229.20 599.10 228.80 599.10 226.80 C598.50 224.80 597.70 222.70 597.90 218.70 Z"/></g><clipPath id="c6430"><rect x="643.00" y="211.40" width="35.90" height="24.30"/></clipPath><g clip-path="url(#c6430)" filter="url(#soft)"><rect x="643.00" y="211.40" width="35.90" height="24.30" fill="#f9e4e8"/><rect x="660.00" y="213.40" width="12.00" height="20.30" fill="#f3c3d3"/><rect x="643.80" y="214.00" width="4.40" height="2.00" fill="#d6dcee"/><rect x="671.60" y="211.40" width="7.30" height="24.30" fill="#f5d3b4"/><rect x="665.20" y="214.00" width="7.40" height="4.80" fill="#c9dbe8" opacity="0.9"/><rect x="655.00" y="233.50" width="23.90" height="2.20" fill="#e3d4ea" opacity="0.9"/><ellipse cx="673" cy="225.6" rx="3.2" ry="1.7" fill="#8b5262"/><circle cx="673" cy="223.8" r="1.7" fill="#8b5262"/><rect x="668.40" y="212.00" width="1.60" height="1.60" fill="#c2607a"/><text x="644.80" y="234.20" font-size="6.0" font-weight="bold" fill="#4c64b8" textLength="3.9" lengthAdjust="spacingAndGlyphs">2</text><text x="648.70" y="234.20" font-size="6.0" font-weight="bold" fill="#d25a78" textLength="3.9" lengthAdjust="spacingAndGlyphs">0</text><text x="652.60" y="234.20" font-size="6.0" font-weight="bold" fill="#4c64b8" textLength="3.9" lengthAdjust="spacingAndGlyphs">0</text><path fill="#8183a9" d="M655.70 218.70 C655.70 210.60 668.50 210.60 668.50 218.70 C668.70 222.70 667.90 224.80 667.30 226.80 C667.30 228.80 670.20 229.20 671.20 232.20 L671.50 235.10 L654.50 235.10 L654.80 232.20 C655.80 229.20 656.90 228.80 656.90 226.80 C656.30 224.80 655.50 222.70 655.70 218.70 Z"/></g><clipPath id="c6980"><rect x="698.00" y="211.40" width="36.20" height="24.30"/></clipPath><g clip-path="url(#c6980)" filter="url(#soft)"><rect x="698.00" y="211.40" width="36.20" height="24.30" fill="#e4f0fa"/><rect x="698.80" y="214.00" width="4.20" height="2.00" fill="#b8cce4"/><rect x="723.40" y="223.80" width="9.80" height="8.30" fill="#d3dbec"/><path d="M726.4 220.5 l1.8 -4.2 l5.4 -0.6 l-1.6 4.8z" fill="#57ae4e"/><rect x="725.20" y="212.20" width="1.60" height="1.60" fill="#6f86d0"/><rect x="710.00" y="233.70" width="24.20" height="2.00" fill="#e9e4c8" opacity="0.8"/><text x="700.20" y="234.10" font-size="6.2" font-weight="bold" fill="#4f74ad" textLength="11.5" lengthAdjust="spacingAndGlyphs">500</text><path fill="#8a91b5" d="M711.00 218.70 C711.00 210.60 723.80 210.60 723.80 218.70 C724.00 222.70 723.20 224.80 722.60 226.80 C722.60 228.80 727.40 229.20 728.40 232.20 L728.70 235.10 L709.50 235.10 L709.80 232.20 C710.80 229.20 712.20 228.80 712.20 226.80 C711.60 224.80 710.80 222.70 711.00 218.70 Z"/></g><clipPath id="c7536"><rect x="753.60" y="211.40" width="35.70" height="24.30"/></clipPath><g clip-path="url(#c7536)" filter="url(#soft)"><rect x="753.60" y="211.40" width="35.70" height="24.30" fill="#dff0f9"/><rect x="754.40" y="214.00" width="4.40" height="2.00" fill="#a9c8dc"/><rect x="780.60" y="211.40" width="8.70" height="24.30" fill="#e9e4a8"/><rect x="780.60" y="223.40" width="8.70" height="9.30" fill="#cfe6e0"/><circle cx="786.8" cy="218.3" r="2.3" fill="#8f9250"/><circle cx="786.8" cy="218.3" r="0.9" fill="#e9e4a8"/><rect x="781.60" y="212.20" width="1.60" height="1.60" fill="#6f86d0"/><rect x="753.60" y="233.90" width="35.70" height="1.80" fill="#e7dcc0" opacity="0.8"/><text x="754.60" y="233.90" font-size="5.6" font-weight="bold" fill="#9a6aa8" textLength="13.2" lengthAdjust="spacingAndGlyphs">1000</text><path fill="#8e6c67" d="M768.12 218.70 C768.12 210.60 780.28 210.60 780.28 218.70 C780.48 222.70 779.68 224.80 779.14 226.80 C779.14 228.80 782.20 229.20 783.20 232.20 L783.50 235.10 L767.30 235.10 L767.60 232.20 C768.60 229.20 769.26 228.80 769.26 226.80 C768.72 224.80 767.92 222.70 768.12 218.70 Z"/></g><clipPath id="c5774"><rect x="577.40" y="370.60" width="34.50" height="24.10"/></clipPath><g clip-path="url(#c5774)" filter="url(#soft)"><rect x="577.40" y="370.60" width="34.50" height="24.10" fill="#fbfbf6"/><rect x="580.60" y="370.60" width="10.40" height="24.10" fill="#abdaf2"/><rect x="580.60" y="377.60" width="9.80" height="10.70" fill="#f5e9c3"/><rect x="580.60" y="377.60" width="2.00" height="10.70" fill="#f3d9c3"/><rect x="583.60" y="371.50" width="6.40" height="5.30" fill="#52b8d9"/><rect x="585.40" y="372.40" width="2.80" height="3.60" fill="#e9d85a"/><rect x="590.40" y="370.60" width="21.50" height="24.10" fill="#f8d14b"/><rect x="590.40" y="392.50" width="21.50" height="2.20" fill="#f8dc7a"/><rect x="607.80" y="388.50" width="2.40" height="1.60" fill="#e9b63a"/><circle cx="582.0" cy="390.5" r="0.9" fill="#e9c53a"/><path fill="#8c7353" d="M598.6 371.2 C602.6 370.2 606.8 373 606.9 378.2 C607 381.6 605.8 383.4 605.4 385.2 C605.4 387.6 607.4 388.8 608 390.6 L608.4 393.6 L589.6 393.6 C589.8 391.2 592 389.8 595.2 389.2 C595.6 388 595.2 387.2 594.4 386.6 C592.6 386.2 592.6 384.4 592.9 383.2 L591.6 381.2 C592.4 379.8 593.2 378.8 593 377.4 C592.6 374.4 595 371.8 598.6 371.2 Z"/></g><clipPath id="c6312"><rect x="631.20" y="370.60" width="34.60" height="24.10"/></clipPath><g clip-path="url(#c6312)" filter="url(#soft)"><rect x="631.20" y="370.60" width="34.60" height="24.10" fill="#ecb9a2"/><rect x="631.20" y="370.60" width="3.40" height="24.10" fill="#f7ddd2"/><rect x="634.60" y="377.20" width="6.40" height="13.50" fill="#f3d3bf"/><rect x="635.20" y="377.20" width="1.20" height="13.50" fill="#eedcae" opacity="0.8"/><rect x="641.00" y="378.60" width="7.40" height="10.70" fill="#b3bbd3"/><rect x="638.00" y="371.60" width="5.40" height="5.20" fill="#6f93a3"/><rect x="639.40" y="372.80" width="2.60" height="2.80" fill="#d9c66a"/><rect x="659.60" y="372.60" width="5.20" height="18.70" fill="#f3ccc4"/><rect x="660.60" y="376.20" width="3.40" height="6.40" fill="#f7e6de"/><circle cx="659.2" cy="384.6" r="2" fill="#f3e59c"/><rect x="631.20" y="391.70" width="34.60" height="3.00" fill="#d79078" opacity="0.9"/><path fill="#a15a3d" d="M649.4 371.8 L659.6 371.8 C660.6 373.2 660.8 377 660.4 380.6 C660.2 383.4 659.8 385.4 660.4 387.2 C662.6 388.2 664.6 389.6 665 393.6 L642.8 393.6 C643.4 390.8 645.2 389.4 648.6 388.6 C649 386.4 648.6 384.4 648.2 382 C647.8 378.4 648 374.2 649.4 371.8 Z"/></g><clipPath id="c6854"><rect x="685.40" y="370.60" width="35.70" height="24.10"/></clipPath><g clip-path="url(#c6854)" filter="url(#soft)"><rect x="685.40" y="370.60" width="35.70" height="24.10" fill="#aadaee"/><rect x="685.40" y="371.60" width="6.80" height="22.10" fill="#e6eef6"/><rect x="686.00" y="377.20" width="5.40" height="10.90" fill="#f1e1ee"/><rect x="692.40" y="371.60" width="10.60" height="21.70" fill="#8ccbd4"/><rect x="693.00" y="371.80" width="5.40" height="5.60" fill="#9dbca0"/><rect x="716.00" y="371.80" width="4.10" height="21.50" fill="#b7def0"/><rect x="716.40" y="377.80" width="3.30" height="2.80" fill="#dbd9a6"/><rect x="716.40" y="384.00" width="3.30" height="2.80" fill="#dbd9a6"/><rect x="716.60" y="373.00" width="2.90" height="1.60" fill="#4f7f9f"/><rect x="716.60" y="390.10" width="2.90" height="1.40" fill="#4f7f9f"/><rect x="688.60" y="389.30" width="1.40" height="3.80" fill="#3f6f9f"/><path fill="#4d7e9d" d="M700.6 371.8 L715.8 371.8 L715.8 393.2 L700.6 393.2 C700.4 390.6 701.6 388.4 703.4 386.8 C703.8 385.4 703.4 384.6 702.6 384 L703.2 381.8 L701.4 380.2 C702.4 378.6 703 377.6 702.6 376 C702 374.2 701 373 700.6 371.8 Z"/><path d="M716.6 384.4 l-1.6 -1 v2z" fill="#e8f4fa"/></g><clipPath id="c7402"><rect x="740.20" y="370.60" width="35.50" height="24.10"/></clipPath><g clip-path="url(#c7402)" filter="url(#soft)"><rect x="740.20" y="370.60" width="35.50" height="24.10" fill="#f07c7c"/><rect x="740.20" y="376.20" width="3.60" height="13.90" fill="#f8d3d6"/><rect x="744.40" y="377.20" width="5.40" height="10.90" fill="#b9b3e3"/><rect x="749.80" y="377.20" width="7.60" height="10.90" fill="#d9a3d2"/><rect x="771.00" y="376.40" width="3.90" height="13.90" fill="#f7c3c3"/><rect x="771.60" y="379.00" width="2.70" height="3.00" fill="#e9d9a6"/><circle cx="750.2" cy="374.6" r="1.9" fill="#9a9440"/><circle cx="750.2" cy="374.6" r="0.8" fill="#e8cf5e"/><rect x="741.20" y="390.50" width="11.00" height="2.80" fill="#e85c66" opacity="0.9"/><rect x="772.00" y="390.50" width="2.50" height="2.60" fill="#f9dfe2"/><circle cx="769.4" cy="385.4" r="1.7" fill="#cfe6f4"/><path fill="#8c4b3f" d="M756.39 378.30 C756.39 370.20 770.21 370.20 770.21 378.30 C770.41 382.30 769.61 384.40 768.92 386.40 C768.92 388.40 772.45 388.80 773.45 391.80 L773.75 393.50 L752.85 393.50 L753.15 391.80 C754.15 388.80 757.68 388.40 757.68 386.40 C756.99 384.40 756.19 382.30 756.39 378.30 Z"/></g>
</svg>
</body>
</html>
